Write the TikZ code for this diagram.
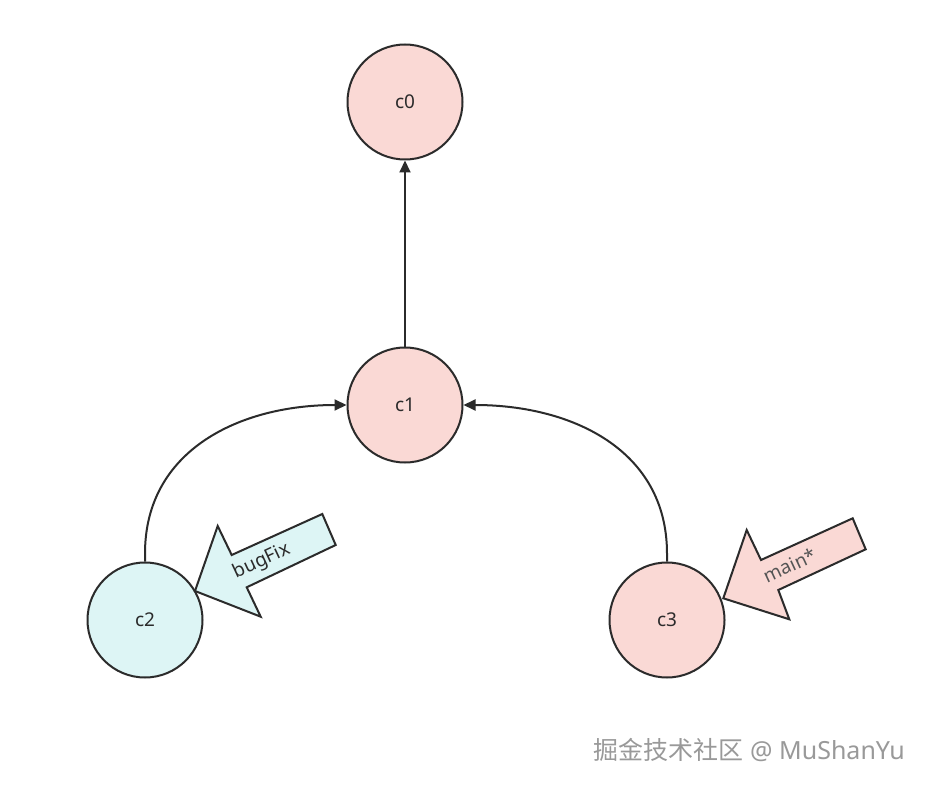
\documentclass[tikz,border=0pt]{standalone}
\usepackage{fontspec}
\setmainfont{Noto Sans}
\newfontfamily\cjk{Noto Sans CJK SC}
\usetikzlibrary{arrows.meta}
\definecolor{pinkfill}{HTML}{FAD9D5}
\definecolor{cyanfill}{HTML}{DDF5F5}
\definecolor{stroke}{HTML}{2B2B2B}
\begin{document}
\begin{tikzpicture}[x=1pt,y=-1pt,
  commit/.style={circle,draw=stroke,line width=2pt,minimum size=115pt,inner sep=0pt,font=\fontsize{19}{22}\selectfont,text=stroke},
  link/.style={draw=stroke,line width=2pt,-{Triangle[length=12pt,width=11pt]}},
  fat/.style={draw=stroke,line width=2pt,line join=miter},
  flag/.style={rotate=25,font=\fontsize{19}{22}\selectfont,inner sep=0pt}]
\useasboundingbox[fill=white] (0,0) rectangle (927,789);
\node[commit,fill=pinkfill] (c0) at (405,102) {c0};
\node[commit,fill=pinkfill] (c1) at (405,405) {c1};
\node[commit,fill=cyanfill] (c2) at (145,620) {c2};
\node[commit,fill=pinkfill] (c3) at (667,620) {c3};
\draw[link] (c1.north) -- (c0.south);
\draw[link] (c2.north) -- ++(0,-8) .. controls (145,450) and (240,405) .. (c1.west);
\draw[link] (c3.north) -- ++(0,-8) .. controls (667,450) and (572,405) .. (c1.east);
% bugFix fat arrow
\filldraw[fat,fill=cyanfill] (195,591) coordinate (bt) -- (217.7,526) -- (231.7,555) -- (322.3,514) -- (335.7,545) -- (246.7,587.3) -- (260.7,616.7) -- cycle;
\node[flag,text=stroke] (bl) at (262,561) {bugFix};
% main fat arrow
\filldraw[fat,fill=pinkfill] (723.3,598.3) coordinate (mt) -- (746.7,530) -- (761,560) -- (852.7,518.3) -- (865.7,549.3) -- (778.3,590) -- (789.3,619.3) -- cycle;
\node[flag,text=stroke!80] (ml) at (790,565) {main*};
% watermark
\node[anchor=east,text=black!40,font=\fontsize{25}{30}\selectfont,inner sep=0pt] (wm) at (905,750) {{\cjk 掘金技术社区} @ MuShanYu};
\end{tikzpicture}
\end{document}
